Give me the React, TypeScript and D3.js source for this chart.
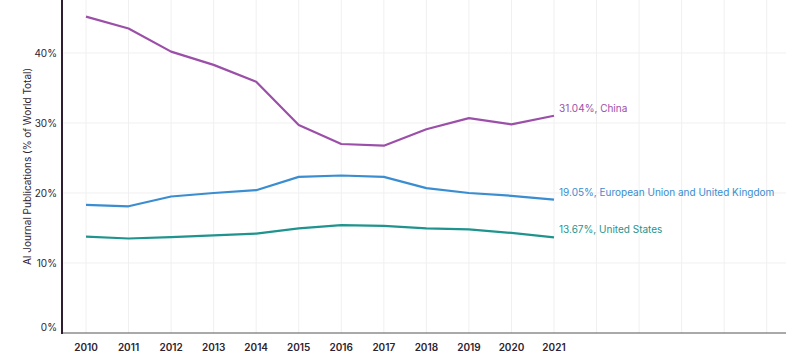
import React from "react";
import * as d3 from "d3";

const years = [2010, 2011, 2012, 2013, 2014, 2015, 2016, 2017, 2018, 2019, 2020, 2021];
const gridYears = [2010, 2011, 2012, 2013, 2014, 2015, 2016, 2017, 2018, 2019, 2020, 2021, 2022, 2023, 2024, 2025, 2026];
const china = [45.2, 43.5, 40.2, 38.3, 35.9, 29.7, 27.0, 26.76, 29.1, 30.7, 29.8, 31.04];
const euUk = [18.3, 18.1, 19.5, 20.0, 20.4, 22.3, 22.5, 22.3, 20.7, 20.0, 19.6, 19.05];
const us = [13.76, 13.5, 13.7, 13.95, 14.2, 14.95, 15.4, 15.3, 14.95, 14.8, 14.3, 13.67];
const yTicks = [0, 10, 20, 30, 40];

const series = [
  { name: "China", values: china, color: "#9b4fa8" },
  { name: "European Union and United Kingdom", values: euUk, color: "#3a8dd0" },
  { name: "United States", values: us, color: "#1f948e" },
];

const W = 800;
const H = 356;
const left = 62;
const right = 786;
const top = 0;
const bottom = 333;
const FONT = "Inter, 'Noto Sans', sans-serif";

export default function App() {
  const x = d3.scaleLinear().domain([2010, 2021]).range([86, 554]);
  const y = d3.scaleLinear().domain([0, 47.57]).range([bottom, top]);
  const line = d3
    .line<number>()
    .x((_, i) => x(years[i]))
    .y((d) => y(d));

  return (
    <svg width={W} height={H} style={{ position: "absolute", left: 0, top: 0, background: "#fff" }}>
      {gridYears.map((g) => (
        <line key={"vg" + g} x1={x(g)} x2={x(g)} y1={top} y2={bottom} stroke="#f0f0f0" strokeWidth={1} />
      ))}
      {yTicks.map((t) =>
        t === 0 ? null : (
          <line key={"hg" + t} x1={left} x2={right} y1={y(t)} y2={y(t)} stroke="#f0f0f0" strokeWidth={1} />
        )
      )}
      <line x1={left} x2={right} y1={bottom} y2={bottom} stroke="#555" strokeWidth={1} />
      <line x1={left} x2={left} y1={top} y2={bottom + 1} stroke="#2e1f30" strokeWidth={2} />
      {yTicks.map((t) => (
        <text
          key={"yt" + t}
          x={57}
          y={t === 0 ? y(t) - 6 : y(t)}
          textAnchor="end"
          dominantBaseline="central"
          fontFamily={FONT}
          fontSize={10}
          fill="#2e2330"
        >
          {t}%
        </text>
      ))}
      {years.map((yr) => (
        <text
          key={"xt" + yr}
          x={x(yr)}
          y={347}
          textAnchor="middle"
          dominantBaseline="central"
          fontFamily={FONT}
          fontSize={10}
          fontWeight={600}
          fill="#2e2330"
        >
          {yr}
        </text>
      ))}
      <text
        transform={`translate(27,${(top + bottom) / 2}) rotate(-90)`}
        textAnchor="middle"
        dominantBaseline="central"
        fontFamily={FONT}
        fontSize={10}
        fill="#2e2330"
      >
        AI Journal Publications (% of World Total)
      </text>
      {series.map((s) => (
        <g key={s.name}>
          <path d={line(s.values) || ""} fill="none" stroke={s.color} strokeWidth={2.2} strokeLinejoin="round" />
          <text
            x={x(years[years.length - 1]) + 5}
            y={y(s.values[s.values.length - 1]) - 8}
            dominantBaseline="central"
            fontFamily={FONT}
            fontSize={10}
            fill={s.color}
          >
            {s.values[s.values.length - 1].toFixed(2)}%, {s.name}
          </text>
        </g>
      ))}
    </svg>
  );
}
